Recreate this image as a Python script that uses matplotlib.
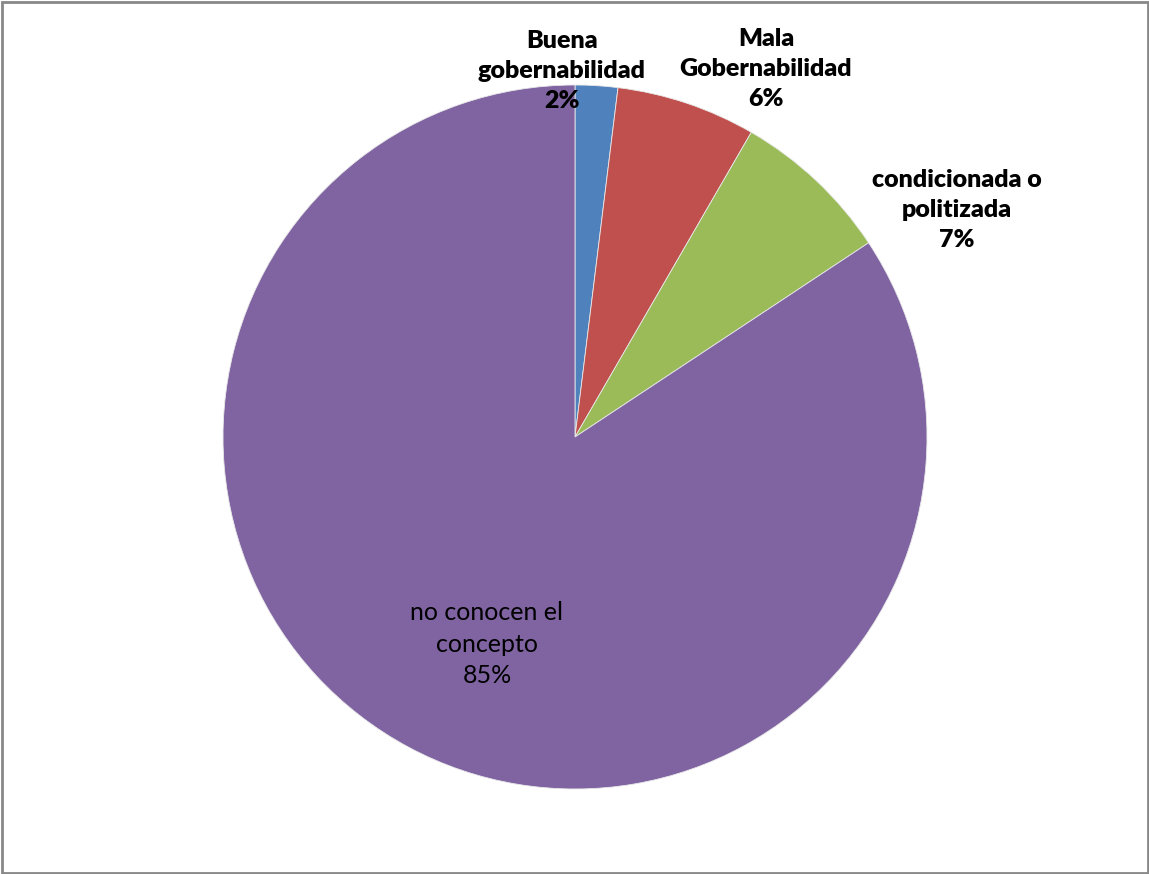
import matplotlib
matplotlib.use("Agg")
import matplotlib.pyplot as plt
from matplotlib.patches import Rectangle

categories = ["Buena\ngobernabilidad", "Mala\nGobernabilidad", "condicionada o\npolitizada", "no conocen el\nconcepto"]
values = [1.95, 6.4, 7.35, 84.3]
pct_labels = ["2%", "6%", "7%", "85%"]
colors = ["#4F81BD", "#C0504D", "#9BBB59", "#8064A2"]
bold = [True, True, True, False]

W, H = 1149, 874
fig = plt.figure(figsize=(W / 100, H / 100), dpi=100)
ax = fig.add_axes([0, 0, 1, 1])

cx, cy, r = 575, H - 437, 352
ax.pie(values, colors=colors, startangle=90, counterclock=False,
       center=(cx, cy), radius=r, frame=True,
       wedgeprops=dict(edgecolor="#e8e8e8", linewidth=0.6))
ax.set_xlim(0, W)
ax.set_ylim(0, H)
ax.axis("off")

# label anchor positions (layout, pixel coords from top-left)
label_pos = [(562, 71), (766, 69), (957, 210), (487, 644)]
for cat, pct, (x, y), b in zip(categories, pct_labels, label_pos, bold):
    ax.text(x, H - y, cat + "\n" + pct, ha="center", va="center",
            fontsize=18, fontweight="heavy" if b else "normal",
            family=["Lato", "DejaVu Sans"], color="black", linespacing=1.45)

fig.patches.append(Rectangle((1.5 / W, 1.5 / H), 1 - 3 / W, 1 - 3 / H,
                             transform=fig.transFigure, fill=False,
                             edgecolor="#888888", linewidth=2))
fig.savefig("out.png", dpi=100)
